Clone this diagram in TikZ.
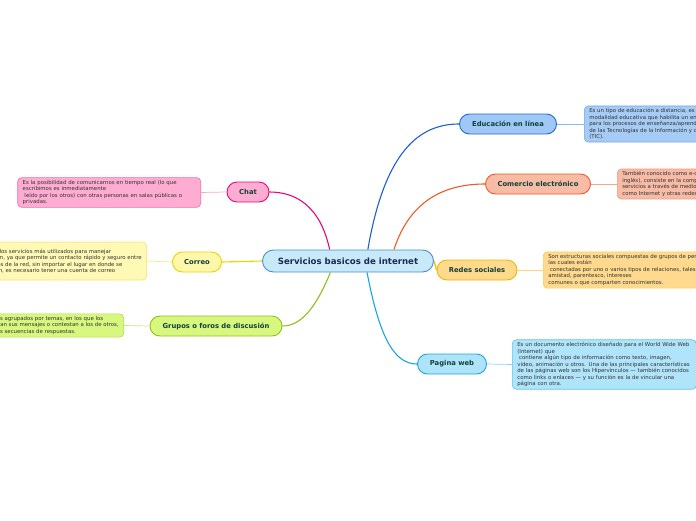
\documentclass[tikz,border=0pt]{standalone}
\usepackage{fontspec}
\setmainfont{DejaVu Sans}
\definecolor{labeltext}{HTML}{10403A}
\definecolor{notetext}{HTML}{333333}
\definecolor{centraltext}{HTML}{1B2B52}
\definecolor{centralfill}{HTML}{C7E9FA}
\definecolor{centraldraw}{HTML}{4A90C8}
\definecolor{edufill}{HTML}{9FC8F6}
\definecolor{edudraw}{HTML}{2468D6}
\definecolor{comerciofill}{HTML}{F8BBA6}
\definecolor{comerciodraw}{HTML}{F05A28}
\definecolor{redesfill}{HTML}{FFD98C}
\definecolor{redesdraw}{HTML}{F5B400}
\definecolor{paginafill}{HTML}{AEE3F9}
\definecolor{paginadraw}{HTML}{1BA5DF}
\definecolor{chatfill}{HTML}{FFACD2}
\definecolor{chatdraw}{HTML}{E8087A}
\definecolor{correofill}{HTML}{FFF7AA}
\definecolor{correodraw}{HTML}{EED200}
\definecolor{gruposfill}{HTML}{D8F77E}
\definecolor{gruposdraw}{HTML}{8CC21A}
\definecolor{edunotefill}{HTML}{A6CCF6}
\definecolor{edunotedraw}{HTML}{6FA5EA}
\definecolor{comercionotedraw}{HTML}{F49A7E}
\definecolor{redesnotefill}{HTML}{FFDA8E}
\definecolor{redesnotedraw}{HTML}{FFC94A}
\definecolor{paginanotefill}{HTML}{B0E4FA}
\definecolor{paginanotedraw}{HTML}{5CC4EE}
\definecolor{chatnotedraw}{HTML}{F36AAE}
\definecolor{correonotefill}{HTML}{FFF9B6}
\definecolor{correonotedraw}{HTML}{F6E27A}
\definecolor{gruposnotedraw}{HTML}{B2DE4E}
\definecolor{edutwig}{HTML}{8DB8EE}
\definecolor{comerciotwig}{HTML}{F6A88E}
\definecolor{redestwig}{HTML}{FFD77A}
\definecolor{paginatwig}{HTML}{8ED6F4}
\definecolor{chattwig}{HTML}{F9A6CC}
\definecolor{correotwig}{HTML}{F6E88E}
\definecolor{grupostwig}{HTML}{C6EA7A}
\definecolor{edubranch}{HTML}{1F5FD0}
\tikzset{
  topic/.style 2 args={draw=#2, fill=#1, line width=0.9pt, rounded corners=10pt,
    minimum height=20pt, inner xsep=4pt, inner ysep=0pt, text=labeltext,
    font=\fontsize{6.8}{8}\selectfont\bfseries},
  note/.style 2 args={draw=#2, fill=#1, line width=0.6pt, rounded corners=4pt,
    align=left, inner xsep=5pt, inner ysep=2.5pt, text=notetext,
    font=\fontsize{5.4}{6.5}\selectfont},
  branch/.style={line width=1.1pt},
  twig/.style={line width=0.7pt}
}
\begin{document}
\begin{tikzpicture}[x=1pt, y=-1pt]
    \useasboundingbox (0,0) rectangle (696,520);
    \clip (0,0) rectangle (696,520);

    \node[topic={centralfill}{centraldraw}, minimum height=22pt, minimum width=171pt, rounded corners=11pt,
      text=centraltext, font=\fontsize{8.6}{10}\selectfont\bfseries] (central) at (348,261) {Servicios basicos de internet};

    \node[topic={edufill}{edudraw}, minimum width=97pt] (edu) at (508,124) {Educación en línea};
    \node[topic={comerciofill}{comerciodraw}, minimum width=105pt] (comercio) at (538,184) {Comercio electrónico};
    \node[topic={redesfill}{redesdraw}, minimum width=80pt] (redes) at (477,270) {Redes sociales};
    \node[topic={paginafill}{paginadraw}, minimum width=69pt] (pagina) at (452,364) {Pagina web};
    \node[topic={chatfill}{chatdraw}, minimum width=42pt] (chat) at (248,192) {Chat};
    \node[topic={correofill}{correodraw}, minimum width=49pt] (correo) at (197,262) {Correo};
    \node[topic={gruposfill}{gruposdraw}, minimum width=132pt] (grupos) at (216,326) {Grupos o foros de discusión};

    \node[note={edunotefill}{edunotedraw}, anchor=west] (edunote) at (584,124)
      {Es un tipo de educación a distancia, es una\\
       modalidad educativa que habilita un entorno\\
       para los procesos de enseñanza/aprendizaje a través\\
       de las Tecnologías de la Información y de la Comunicación\\
       (TIC).};
    \node[note={comerciofill}{comercionotedraw}, anchor=west] (comercionote) at (617,184)
      {También conocido como e-commerce (electronic commerce en\\
       inglés), consiste en la compra y venta de productos o de\\
       servicios a través de medios electrónicos, tales\\
       como Internet y otras redes informáticas.};
    \node[note={redesnotefill}{redesnotedraw}, anchor=west] (redesnote) at (543,270)
      {Son estructuras sociales compuestas de grupos de personas,\\
       las cuales están\\
       \ conectadas por uno o varios tipos de relaciones, tales como\\
       amistad, parentesco, intereses\\
       comunes o que comparten conocimientos.};
    \node[note={paginanotefill}{paginanotedraw}, anchor=west, text width=174pt] (paginanote) at (512,364.5)
      {Es un documento electrónico diseñado para el World Wide Web\\
       (Internet) que\\
       \ contiene algún tipo de información como texto, imagen,\\
       video, animación u otros. Una de las principales características\\
       de las páginas web son los Hipervínculos --- también conocidos\\
       como links o enlaces --- y su función es la de vincular una\\
       página con otra.};
    \node[note={chatfill}{chatnotedraw}, anchor=east, text width=173pt] (chatnote) at (201,192.5)
      {Es la posibilidad de comunicarnos en tiempo real (lo que\\
       escribimos es inmediatamente\\
       \ leído por los otros) con otras personas en salas públicas o\\
       privadas.};
    \node[note={correonotefill}{correonotedraw}, anchor=east, minimum height=38pt] (correonote) at (147,261)
      {Es uno de los servicios más utilizados para manejar\\
       información, ya que permite un contacto rápido y seguro entre\\
       los usuarios de la red, sin importar el lugar en donde se\\
       encuentren, es necesario tener una cuenta de correo};
    \node[note={gruposfill}{gruposnotedraw}, anchor=east] (gruposnote) at (124,325.5)
      {Son espacios agrupados por temas, en los que los\\
       usuarios dejan sus mensajes o contestan a los de otros,\\
       formando las secuencias de respuestas.};

    \draw[branch, edubranch] (central.30) .. controls (385,150) and (420,124) .. (edu.west);
    \draw[branch, comerciodraw] (central.14) .. controls (410,200) and (445,184) .. (comercio.west);
    \draw[branch, redesdraw] (central.east) .. controls (436,266) and (436,270) .. (redes.west);
    \draw[branch, paginadraw] (central.-31) .. controls (380,340) and (395,364) .. (pagina.west);
    \draw[branch, chatdraw] (central.148) .. controls (320,205) and (295,192) .. (chat.east);
    \draw[branch, correodraw] (central.west) -- (correo.east);
    \draw[branch, gruposdraw] (central.-147) .. controls (315,310) and (300,326) .. (grupos.east);

    \draw[twig, edutwig] (edu.east) -- (edunote.west);
    \draw[twig, comerciotwig] (comercio.east) -- (comercionote.west);
    \draw[twig, redestwig] (redes.east) -- (redesnote.west);
    \draw[twig, paginatwig] (pagina.east) -- (paginanote.west);
    \draw[twig, chattwig] (chat.west) -- (chatnote.east);
    \draw[twig, correotwig] (correo.west) -- (correonote.east);
    \draw[twig, grupostwig] (grupos.west) -- (gruposnote.east);
\end{tikzpicture}
\end{document}
